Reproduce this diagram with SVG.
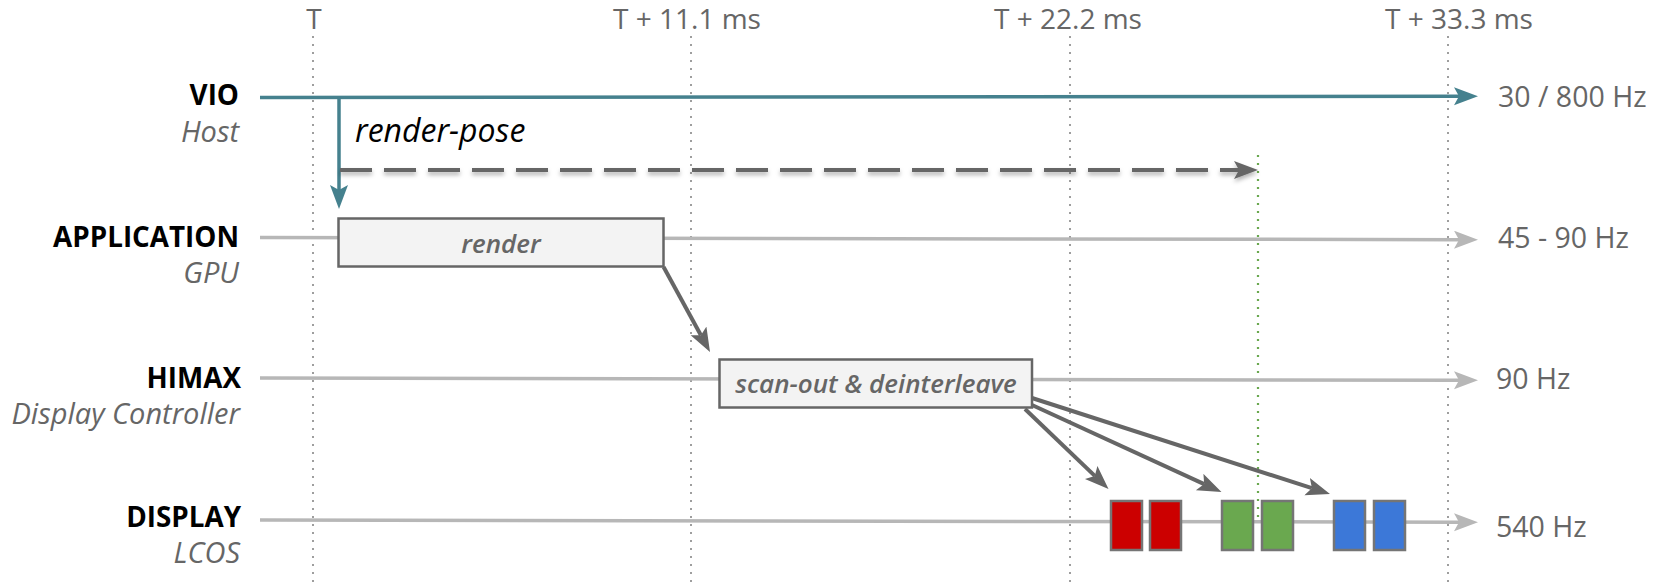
<svg xmlns="http://www.w3.org/2000/svg" width="1665" height="582" viewBox="0 0 1665 582">
<style>
  text { font-family: "Open Sans", "Liberation Sans", sans-serif; }
  .tick { font-size: 28px; fill: #666; text-anchor: middle; }
  .lane { font-size: 27.8px; font-weight: 700; fill: #000; text-anchor: end; }
  .sub { font-size: 29px; font-style: italic; fill: #666; text-anchor: end; }
  .rate { font-size: 28.5px; fill: #666; }
  .task { font-size: 26px; font-style: italic; font-weight: 600; fill: #666; text-anchor: middle; }
  .grid { stroke: #9e9e9e; stroke-width: 2; stroke-dasharray: 2 6; fill: none; }
  .gline { stroke: #b7b7b7; stroke-width: 3.5; fill: none; }
  .dark { stroke: #666; stroke-width: 4; fill: none; }
  .box { fill: #f3f3f3; stroke: #666; stroke-width: 2.5; }
  .sub-frame { stroke: #757575; stroke-width: 2.5; }
</style>
<defs>
  <marker id="ah-teal" markerUnits="userSpaceOnUse" markerWidth="26" markerHeight="20" refX="5" refY="9" orient="auto">
    <path d="M0,0 L24,9 L0,18 L5,9 z" fill="#45818e"/>
  </marker>
  <marker id="ah-gray" markerUnits="userSpaceOnUse" markerWidth="26" markerHeight="20" refX="5" refY="9" orient="auto">
    <path d="M0,0 L24,9 L0,18 L5,9 z" fill="#b7b7b7"/>
  </marker>
  <marker id="ah-dark" markerUnits="userSpaceOnUse" markerWidth="26" markerHeight="20" refX="5" refY="9" orient="auto">
    <path d="M0,0 L24,9 L0,18 L5,9 z" fill="#666"/>
  </marker>
  <filter id="shadow" filterUnits="userSpaceOnUse" x="320" y="145" width="960" height="50">
    <feDropShadow dx="0" dy="3" stdDeviation="2" flood-color="#000" flood-opacity="0.3"/>
  </filter>
</defs>

<g id="timeline">
  <line class="grid" x1="313" y1="36" x2="313" y2="582"/>
  <line class="grid" x1="691" y1="36" x2="691" y2="582"/>
  <line class="grid" x1="1070" y1="36" x2="1070" y2="582"/>
  <line class="grid" x1="1448" y1="36" x2="1448" y2="582"/>
  <line x1="1258" y1="155" x2="1258" y2="522" stroke="#6aa84f" stroke-width="2.2" stroke-dasharray="2 6"/>
  <text class="tick" x="314" y="29">T</text>
  <text class="tick" x="687" y="29">T + 11.1 ms</text>
  <text class="tick" x="1068" y="29">T + 22.2 ms</text>
  <text class="tick" x="1459" y="29">T + 33.3 ms</text>
</g>

<g id="connectors">
  <line class="gline" x1="260" y1="237.5" x2="1459" y2="239.7" marker-end="url(#ah-gray)"/>
  <line class="gline" x1="260" y1="378" x2="1459" y2="380.3" marker-end="url(#ah-gray)"/>
  <line class="gline" x1="260" y1="520" x2="1459" y2="522.2" marker-end="url(#ah-gray)"/>
  <line x1="260" y1="97.5" x2="1459" y2="96.2" stroke="#45818e" stroke-width="3.5" marker-end="url(#ah-teal)"/>
  <line x1="339" y1="97" x2="339" y2="190" stroke="#45818e" stroke-width="3.5" marker-end="url(#ah-teal)"/>
  <g filter="url(#shadow)">
    <line class="dark" x1="340" y1="170" x2="1239" y2="170" stroke-dasharray="32 12" marker-end="url(#ah-dark)"/>
  </g>
  <line class="dark" x1="663.6" y1="267" x2="700.9" y2="335.3" marker-end="url(#ah-dark)"/>
  <line class="dark" x1="1025" y1="409" x2="1094.8" y2="475.9" marker-end="url(#ah-dark)"/>
  <line class="dark" x1="1032" y1="405" x2="1204.2" y2="484.1" marker-end="url(#ah-dark)"/>
  <line class="dark" x1="1032" y1="398" x2="1311.9" y2="488.2" marker-end="url(#ah-dark)"/>
</g>

<g id="lane-vio">
  <text class="lane" x="239" y="105">VIO</text>
  <text class="sub" x="239" y="141.7">Host</text>
  <text class="rate" x="1498" y="106.5">30 / 800 Hz</text>
</g>
<text id="render-pose" x="355" y="141.7" font-size="32" font-style="italic" fill="#000">render-pose</text>

<g id="lane-application">
  <text class="lane" x="239" y="246.7">APPLICATION</text>
  <text class="sub" x="239" y="282.7">GPU</text>
  <text class="rate" x="1498" y="248.3">45 - 90 Hz</text>
</g>
<g id="node-render">
  <rect class="box" x="338.5" y="218.5" width="325" height="48"/>
  <text class="task" x="501" y="252.5" font-size="27">render</text>
</g>

<g id="lane-himax">
  <text class="lane" x="241" y="387.7">HIMAX</text>
  <text class="sub" x="240" y="424">Display Controller</text>
  <text class="rate" x="1496" y="389.3">90 Hz</text>
</g>
<g id="node-scanout">
  <rect class="box" x="719.5" y="359.5" width="312.5" height="48"/>
  <text class="task" x="876" y="392.7">scan-out &amp; deinterleave</text>
</g>

<g id="lane-display">
  <text class="lane" x="241" y="526.7">DISPLAY</text>
  <text class="sub" x="240" y="562.7">LCOS</text>
  <text class="rate" x="1496" y="536.7">540 Hz</text>
</g>
<g id="subframes">
  <rect class="sub-frame" x="1111" y="501" width="31" height="49" fill="#cc0000"/>
  <rect class="sub-frame" x="1150" y="501" width="31" height="49" fill="#cc0000"/>
  <rect class="sub-frame" x="1222" y="501" width="31" height="49" fill="#6aa84f"/>
  <rect class="sub-frame" x="1262" y="501" width="31" height="49" fill="#6aa84f"/>
  <rect class="sub-frame" x="1334" y="501" width="31" height="49" fill="#3c78d8"/>
  <rect class="sub-frame" x="1374" y="501" width="31" height="49" fill="#3c78d8"/>
</g>
</svg>
